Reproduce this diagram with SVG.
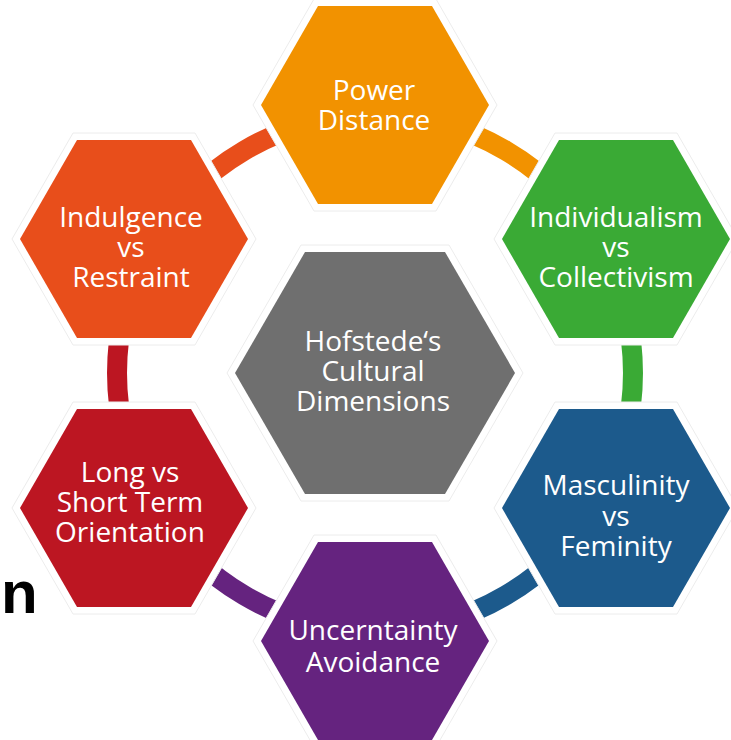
<svg xmlns="http://www.w3.org/2000/svg" xmlns:xlink="http://www.w3.org/1999/xlink" width="731" height="740" viewBox="0 0 731 740">
<defs>
<style>
.arc{fill:none;stroke-width:20}
.halo{fill:#fff;stroke:#ececec;stroke-width:1}
.lbl{font-family:"Open Sans","Noto Sans","Liberation Sans",sans-serif;font-size:28px;fill:#fff;text-anchor:middle}
</style>
<polygon id="hx" points="-114,0 -57,-99 57,-99 114,0 57,99 -57,99"/>
<polygon id="hxh" points="-122,0 -61,-106 61,-106 122,0 61,106 -61,106"/>
<polygon id="hc" points="-140,0 -70,-121 70,-121 140,0 70,121 -70,121"/>
<polygon id="hch" points="-148,0 -74,-128 74,-128 148,0 74,128 -74,128"/>
</defs>
<rect width="731" height="740" fill="#fff"/>
<g id="connectors">
<path class="arc" stroke="#F29200" d="M375,115 A258,258 0 0 1 600.4,247.5"/>
<path class="arc" stroke="#3AAA35" d="M600.4,247.5 A258,258 0 0 1 600.4,498.5"/>
<path class="arc" stroke="#1C5A8C" d="M600.4,498.5 A258,258 0 0 1 375,631"/>
<path class="arc" stroke="#65237F" d="M375,631 A258,258 0 0 1 149.6,498.5"/>
<path class="arc" stroke="#BC1622" d="M149.6,498.5 A258,258 0 0 1 149.6,247.5"/>
<path class="arc" stroke="#E84E1B" d="M149.6,247.5 A258,258 0 0 1 375,115"/>
</g>
<g id="center">
<use xlink:href="#hch" class="halo" x="375" y="373"/>
<use xlink:href="#hc" fill="#6F6F6F" x="375" y="373"/>
<text class="lbl"><tspan x="373" y="351">Hofstede‘s</tspan><tspan x="373" y="381">Cultural</tspan><tspan x="373" y="411">Dimensions</tspan></text>
</g>
<g id="power">
<use xlink:href="#hxh" class="halo" x="375" y="105"/>
<use xlink:href="#hx" fill="#F29200" x="375" y="105"/>
<text class="lbl"><tspan x="374" y="100">Power</tspan><tspan x="374" y="130">Distance</tspan></text>
</g>
<g id="individualism">
<use xlink:href="#hxh" class="halo" x="616" y="239"/>
<use xlink:href="#hx" fill="#3AAA35" x="616" y="239"/>
<text class="lbl"><tspan x="616" y="227">Individualism</tspan><tspan x="616" y="257">vs</tspan><tspan x="616" y="287">Collectivism</tspan></text>
</g>
<g id="masculinity">
<use xlink:href="#hxh" class="halo" x="616" y="508"/>
<use xlink:href="#hx" fill="#1C5A8C" x="616" y="508"/>
<text class="lbl"><tspan x="616" y="495">Masculinity</tspan><tspan x="616" y="526">vs</tspan><tspan x="616" y="556">Feminity</tspan></text>
</g>
<g id="uncertainty">
<use xlink:href="#hxh" class="halo" x="375" y="641"/>
<use xlink:href="#hx" fill="#65237F" x="375" y="641"/>
<text class="lbl"><tspan x="373" y="640">Uncerntainty</tspan><tspan x="373" y="672">Avoidance</tspan></text>
</g>
<g id="longterm">
<use xlink:href="#hxh" class="halo" x="134" y="508"/>
<use xlink:href="#hx" fill="#BC1622" x="134" y="508"/>
<text class="lbl"><tspan x="130" y="482">Long vs</tspan><tspan x="130" y="512">Short Term</tspan><tspan x="130" y="542">Orientation</tspan></text>
</g>
<g id="indulgence">
<use xlink:href="#hxh" class="halo" x="134" y="239"/>
<use xlink:href="#hx" fill="#E84E1B" x="134" y="239"/>
<text class="lbl"><tspan x="131" y="227">Indulgence</tspan><tspan x="131" y="257">vs</tspan><tspan x="131" y="287">Restraint</tspan></text>
</g>
<text x="1" y="613" font-family="Liberation Sans, Arial, sans-serif" font-weight="bold" font-size="60" fill="#000">n</text>
</svg>
